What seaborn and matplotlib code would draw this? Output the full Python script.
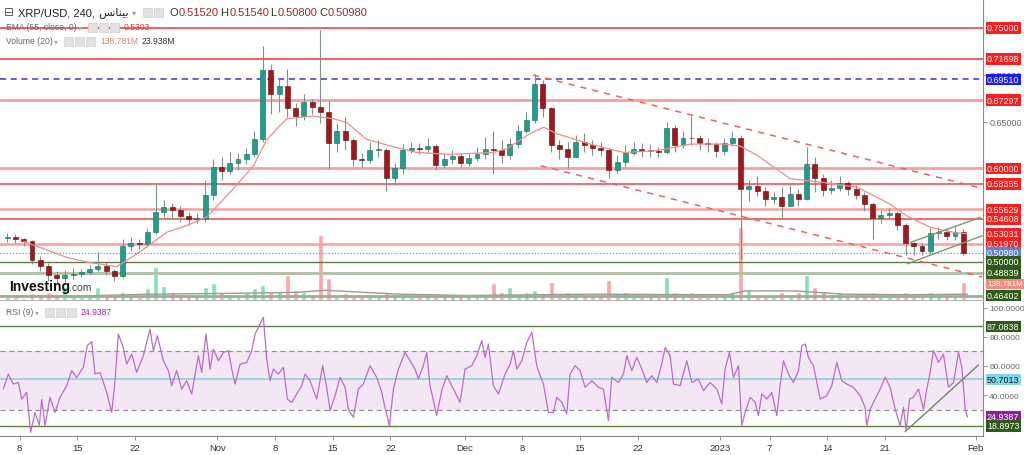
import numpy as np
import pandas as pd
import matplotlib
matplotlib.use("Agg")
import matplotlib.pyplot as plt
from matplotlib.patches import Rectangle
import seaborn as sns

# ---------------- data ----------------
day_start = "2022-10-06"
day_end = "2023-01-30"
origin = "2022-10-08"          # x values are days since this date

first_open = 0.5255
close = [0.527, 0.525, 0.522, 0.502, 0.496, 0.486, 0.483, 0.486, 0.487, 0.489, 0.492, 0.496, 0.490,
         0.485, 0.517, 0.520, 0.519, 0.532, 0.553, 0.559, 0.556, 0.549, 0.546, 0.546, 0.572, 0.602,
         0.597, 0.606, 0.610, 0.615, 0.631, 0.705, 0.680, 0.688, 0.665, 0.656, 0.671, 0.666, 0.660,
         0.627, 0.640, 0.630, 0.610, 0.609, 0.620, 0.620, 0.590, 0.600, 0.620, 0.622, 0.621, 0.624,
         0.604, 0.610, 0.613, 0.606,
         0.611, 0.615, 0.621, 0.620, 0.614, 0.626, 0.640, 0.652, 0.690, 0.664, 0.625, 0.621, 0.612,
         0.628, 0.625, 0.622, 0.620, 0.598, 0.607, 0.616, 0.621, 0.619, 0.619, 0.617, 0.643, 0.625,
         0.633, 0.632, 0.627, 0.626, 0.619,
         0.627, 0.633, 0.578, 0.581, 0.576, 0.567, 0.569, 0.560, 0.573, 0.567, 0.605, 0.590, 0.577,
         0.579, 0.584, 0.578, 0.572, 0.562, 0.547, 0.550, 0.552, 0.540, 0.520, 0.517, 0.512, 0.531,
         0.532, 0.528, 0.532, 0.5098]
high = [0.531, 0.530, 0.526, 0.524, 0.506, 0.499, 0.490, 0.491, 0.494, 0.493, 0.497, 0.511, 0.500,
        0.492, 0.525, 0.527, 0.525, 0.536, 0.583, 0.566, 0.563, 0.560, 0.553, 0.552, 0.588, 0.610,
        0.612, 0.618, 0.616, 0.622, 0.640, 0.731, 0.712, 0.697, 0.706, 0.670, 0.680, 0.674, 0.748,
        0.672, 0.648, 0.655, 0.632, 0.616, 0.628, 0.630, 0.622, 0.606, 0.626, 0.628, 0.627, 0.632,
        0.626, 0.616, 0.620, 0.616,
        0.616, 0.623, 0.634, 0.640, 0.630, 0.632, 0.646, 0.660, 0.701, 0.694, 0.666, 0.630, 0.628,
        0.636, 0.638, 0.630, 0.628, 0.622, 0.614, 0.625, 0.628, 0.627, 0.626, 0.623, 0.650, 0.646,
        0.640, 0.656, 0.636, 0.632, 0.628,
        0.632, 0.640, 0.636, 0.588, 0.592, 0.580, 0.575, 0.580, 0.582, 0.578, 0.623, 0.612, 0.594,
        0.588, 0.592, 0.587, 0.582, 0.575, 0.564, 0.556, 0.558, 0.555, 0.542, 0.521, 0.520, 0.536,
        0.537, 0.536, 0.540, 0.5354]
low = [0.521, 0.520, 0.517, 0.498, 0.490, 0.480, 0.477, 0.476, 0.482, 0.484, 0.486, 0.490, 0.486,
       0.480, 0.483, 0.512, 0.514, 0.516, 0.530, 0.548, 0.546, 0.543, 0.540, 0.542, 0.543, 0.566,
       0.588, 0.594, 0.598, 0.605, 0.612, 0.628, 0.658, 0.660, 0.655, 0.645, 0.652, 0.658, 0.648,
       0.599, 0.618, 0.620, 0.603, 0.600, 0.606, 0.612, 0.576, 0.582, 0.594, 0.616, 0.615, 0.616,
       0.598, 0.600, 0.605, 0.601,
       0.603, 0.608, 0.610, 0.594, 0.606, 0.610, 0.622, 0.638, 0.648, 0.655, 0.618, 0.610, 0.600,
       0.612, 0.618, 0.614, 0.613, 0.590, 0.595, 0.602, 0.614, 0.612, 0.612, 0.612, 0.615, 0.617,
       0.622, 0.625, 0.620, 0.618, 0.612,
       0.614, 0.624, 0.503, 0.565, 0.570, 0.560, 0.562, 0.548, 0.565, 0.560, 0.566, 0.575, 0.570,
       0.573, 0.576, 0.572, 0.567, 0.555, 0.525, 0.542, 0.546, 0.534, 0.507, 0.508, 0.508, 0.509,
       0.525, 0.524, 0.523, 0.508]
volume_m = [25, 20, 18, 55, 40, 60, 45, 100, 40, 25, 30, 100, 40, 35, 60, 35, 40, 90, 257, 110,
            60, 50, 40, 30, 100, 128,
            60, 50, 40, 60, 90, 115, 60, 70, 192, 80, 60, 40, 500, 167, 40, 55, 40, 30, 35, 40,
            55, 45, 40, 30, 30, 35, 50, 45, 35, 35,
            30, 30, 40, 128, 60, 100, 50, 60, 77, 50, 140, 50, 60, 45, 40, 40, 35, 154, 50, 60,
            35, 30, 30, 25, 180, 60, 50, 60, 40, 40, 35,
            40, 60, 565, 80, 50, 40, 35, 60, 50, 60, 192, 100, 70, 50, 64, 40, 40, 50, 60, 40,
            50, 40, 64, 50, 40, 60, 40, 35, 40, 139]

ema_day = [0.5, 1.1, 5.7, 8.1, 11.8, 14.6, 17.9, 20.3, 22.7, 25.9, 28.4, 30.0, 32.4, 35.6, 38.1,
           39.7, 42.1, 45.4, 48.2, 52.2, 57.5, 59.1, 61.9, 63.6, 65.2, 69.2, 73.3, 77.3, 81.4,
           85.4, 87.4, 89.5, 93.5, 97.5, 101.6, 105.6, 107.7, 110.5, 113.7, 114.9]
ema_val = [0.522, 0.520, 0.505, 0.500, 0.495, 0.511, 0.532, 0.539, 0.548, 0.578, 0.603, 0.631,
           0.653, 0.656, 0.653, 0.649, 0.631, 0.623, 0.617, 0.615, 0.617, 0.621, 0.637, 0.644,
           0.637, 0.626, 0.617, 0.619, 0.626, 0.626, 0.624, 0.614, 0.589, 0.585, 0.580, 0.562,
           0.549, 0.537, 0.531, 0.5303]

volma_day = [-2, 8, 16, 24, 30, 34, 37, 40, 46, 54, 62, 70, 78, 86, 88, 94, 100, 108, 115]
volma_val = [30, 32, 45, 50, 55, 60, 75, 65, 45, 35, 40, 45, 42, 40, 70, 70, 45, 40, 45]

rsi_day = [-1.97, -1.37, -0.76, -0.15, 0.25, 0.86, 1.34, 1.87, 2.39, 2.68,
           3.08, 3.69, 4.30, 4.90, 5.71, 6.32, 6.92, 7.73, 8.22, 8.75,
           9.15, 9.76, 10.57, 11.17, 11.58, 11.98, 12.51, 12.99, 13.60, 14.21,
           15.02, 15.42, 15.82, 16.23, 16.71, 17.44, 18.05, 18.45, 19.06, 19.67,
           20.27, 20.88, 21.69, 22.09, 22.62, 23.11, 23.51, 24.12, 24.72, 25.33,
           25.74, 26.14, 26.75, 27.56, 28.16, 28.57, 29.17, 29.58, 29.98, 30.39,
           30.79, 31.40, 32.01, 32.49, 33.02, 33.62, 34.23, 34.64, 35.24, 36.05,
           36.78, 37.26, 37.67, 38.28, 38.88, 39.49, 39.89, 40.50, 41.11, 41.71,
           42.52, 43.33, 43.94, 44.34, 44.87, 45.36, 45.96, 46.77, 47.38, 47.98,
           48.39, 48.99, 49.40, 49.80, 50.61, 51.22, 51.83, 52.43, 53.45, 54.05,
           54.86, 55.47, 56.08, 56.48, 56.88, 57.49, 58.10,
           58.91, 59.52, 59.92, 60.33, 60.93, 61.54, 62.15, 62.75, 63.16, 63.56,
           64.17, 64.78, 65.18, 65.79, 66.39, 66.80, 67.41, 68.01, 68.62, 69.43,
           70.24, 70.84, 71.45, 71.85, 72.66, 73.27, 73.68, 74.28, 74.89, 75.50,
           76.10, 76.71, 77.32, 77.92, 78.33, 78.93, 79.34, 80.15, 80.96, 81.56,
           82.37, 82.98, 83.79, 84.60, 85.20, 85.61, 86.13, 86.62, 87.23, 87.63,
           88.04, 88.64, 89.25, 89.65, 90.06, 90.67, 91.27, 91.88, 92.28, 92.69,
           93.30, 93.90, 94.51, 94.91, 95.32, 95.72, 96.33, 96.73, 97.14, 97.95,
           98.55, 99.16, 99.77, 100.37, 101.18, 101.99, 102.60, 102.80, 103.21, 103.81,
           104.42, 105.03, 105.63, 106.24, 106.85, 107.25, 107.57, 107.98, 108.46, 109.07,
           109.68, 110.08, 110.49, 110.89, 111.50, 112.10, 112.71, 113.32, 113.93, 114.33,
           114.74, 115.02]
rsi_val = [44, 54.4, 47.5, 48.6, 37.2, 41.8, 14.4, 28, 19, 37,
           19, 38.4, 28, 38.4, 46.4, 56.7, 52, 59, 74, 76.6,
           54.4, 55.5, 41.8, 28, 49.8, 81.8, 73.8, 61.2, 68, 55.5,
           67, 76, 85.2, 70.4, 80.7, 63.5, 56.7, 46.4, 56.7, 44,
           49.8, 40.7, 67, 55.5, 81.8, 57.8, 71.5, 63.5, 69.2, 70.4,
           57.8, 47.5, 61.2, 62.3, 70.4, 81.8, 88.7, 93.3, 64.7, 49.8,
           57.8, 54.4, 59, 37.2, 34.9, 40.7, 46.4, 54.4, 49.8, 37.2,
           60.1, 45.3, 29.2, 39.5, 52.1, 45.3, 30.3, 24.6, 44.1, 47.5,
           60.1, 52.1, 41.8, 31.4, 19, 44.1, 57.8, 69.2, 63.5, 57.8,
           51, 60.1, 69.2, 46.4, 26, 43, 53.3, 46.4, 35, 57.8,
           60.1, 67, 77.3, 65.8, 75, 46.4, 40.7,
           54.4, 61.2, 70.4, 57.8, 63.5, 76, 83, 60.1, 53.3, 47.5,
           28, 28, 38.4, 35, 27, 54.4, 60.1, 56.7, 45.3, 49.8,
           45.3, 44.1, 22.4, 52.1, 48.6, 54.4, 67, 56.7, 65.8, 57.8,
           48.6, 53.3, 48.6, 61.2, 72.6, 67, 47.5, 46.4, 63.5, 48.6,
           51, 43, 48.6, 44.1, 33.8, 57.8, 69.2, 52.1, 60.1, 19,
           28, 38.4, 35, 25.8, 40.7, 37.2, 41.8, 25.8, 46.4, 63.5,
           54.4, 48.6, 56.7, 73.8, 75, 65.8, 60.1, 48.6, 37.2, 39.5,
           46.4, 62.3, 49.8, 47.5, 45.3, 39.5, 31.4, 19, 30.3, 37.2,
           44.1, 52.1, 45.3, 30.3, 19, 31.4, 15.6, 37.2, 38.4, 44.1,
           30.3, 44.1, 55.5, 70.4, 62.3, 68, 45.3, 48.6, 69.2, 59,
           30.3, 24.94]

level_price = [0.75000, 0.71698, 0.69510, 0.67297, 0.60000, 0.58355, 0.55629, 0.54608,
               0.51970, 0.50980, 0.50000, 0.48839, 0.46402]
rsi_levels = [87.0838, 70.0, 50.7013, 30.0, 18.8973]

upper_trend_day, upper_trend_price = [62.3, 116.6], [0.6998, 0.5790]
lower_trend_day, lower_trend_price = [63.2, 116.8], [0.6029, 0.4840]
chan_up_day, chan_up_price = [108.1, 116.6], [0.5210, 0.5477]
chan_lo_day, chan_lo_price = [107.7, 116.8], [0.4980, 0.5280]
rsi_trend_day, rsi_trend_val = [107.45, 116.35], [14.8, 60.6]

tick_dates = ['2022-10-08', '2022-10-15', '2022-10-22', '2022-11-01', '2022-11-08', '2022-11-15',
              '2022-11-22', '2022-12-01', '2022-12-08', '2022-12-15', '2022-12-22', '2023-01-01',
              '2023-01-07', '2023-01-14', '2023-01-21', '2023-02-01']
tick_labels = ['8', '15', '22', 'Nov', '8', '15', '22', 'Dec', '8', '15', '22', '2023',
               '7', '14', '21', 'Feb']

# ---------------- style ----------------
sns.set_style("white")
plt.rcParams['font.family'] = ['Liberation Sans', 'DejaVu Sans']

W, H = 1024, 456
fig = plt.figure(figsize=(W / 100, H / 100), dpi=100, facecolor='white')

def rect(top_px, bot_px, right_px=983):
    return [0, (H - bot_px) / H, right_px / W, (bot_px - top_px) / H]

XL = (-2.38, 116.9)
PL = (0.4594, 0.78098)

ax_vol = fig.add_axes(rect(0, 301))
ax = fig.add_axes(rect(0, 301))
ax.set_facecolor('none')
ax_rsi = fig.add_axes(rect(302, 437))

# ---------------- candles ----------------
dates = pd.date_range(day_start, day_end, freq='D')
xd = (dates - pd.Timestamp(origin)).days.values + 0.5
c = np.array(close)
o = np.r_[first_open, c[:-1]]
up = c >= o
UPC, DNC, WICK = '#1f9e89', '#a3171b', '#7d928a'

ax.vlines(xd, low, high, color=WICK, lw=0.8, zorder=3)
body = np.maximum(np.abs(c - o), 0.0009)
bottom = np.minimum(c, o)
ax.bar(xd[up], body[up], bottom=bottom[up], width=0.6, color=UPC, edgecolor='#17695d', lw=0.4, zorder=4)
ax.bar(xd[~up], body[~up], bottom=bottom[~up], width=0.6, color=DNC, edgecolor='#5a0d0f', lw=0.4, zorder=4)

# EMA
sns.lineplot(x=ema_day, y=ema_val, ax=ax, color='#f28b8b', lw=0.9, zorder=5)

# volume
vcols = np.where(up, '#86e0b6', '#f7a8a8')
ax_vol.bar(xd, volume_m, width=0.6, color=vcols, zorder=2)
sns.lineplot(x=volma_day, y=volma_val, ax=ax_vol, color='#9a9a9a', lw=1.0, zorder=3)
ax_vol.set_ylim(0, 2318)
ax_vol.set_xlim(*XL)
ax_vol.axis('off')

# level lines
lvl_style = [
    dict(color='#f23535', lw=1.1, ls='-'),
    dict(color='#f23535', lw=1.1, ls='-'),
    dict(color='#3636f0', lw=1.1, ls=(0, (4, 3))),
    dict(color='#f6a0a0', lw=2.0, ls='-'),
    dict(color='#f6a0a0', lw=2.0, ls='-'),
    dict(color='#f04545', lw=1.1, ls='-'),
    dict(color='#f6a0a0', lw=1.8, ls='-'),
    dict(color='#f04545', lw=1.1, ls='-'),
    dict(color='#f6a0a0', lw=1.8, ls='-'),
    dict(color='#7090e8', lw=0.9, ls=(0, (1, 1.5))),
    dict(color='#5f7f45', lw=1.0, ls='-'),
    dict(color='#b0bfa3', lw=2.0, ls='-'),
    dict(color='#9fae96', lw=2.0, ls='-'),
]
for p, st in zip(level_price, lvl_style):
    ax.axhline(p, zorder=2, **st)

# trend lines
ax.plot(upper_trend_day, upper_trend_price, color='#f26060', lw=1.1, ls=(0, (4, 4)), zorder=6)
ax.plot(lower_trend_day, lower_trend_price, color='#f26060', lw=1.1, ls=(0, (4, 4)), zorder=6)
ax.plot(chan_up_day, chan_up_price, color='#7f9a6a', lw=1.0, zorder=6)
ax.plot(chan_lo_day, chan_lo_price, color='#7f9a6a', lw=1.0, zorder=6)

ax.set_xlim(*XL)
ax.set_ylim(*PL)
ax.set_xlabel('')
ax.set_ylabel('')
ax.set_xticks([])
ax.yaxis.tick_right()
ax.set_yticks([0.70, 0.65])
ax.set_yticklabels(['0.70000', '0.65000'])
ax.tick_params(axis='y', right=True, length=3, width=0.6, color='#888', labelsize=6.4,
               labelcolor='#666', pad=2)
for s in ['top', 'left']:
    ax.spines[s].set_visible(False)
ax.spines['right'].set_color('#8a8a8a')
ax.spines['right'].set_linewidth(0.8)
ax.spines['bottom'].set_color('#b5b5b5')
ax.spines['bottom'].set_linewidth(0.8)

def rlabel(axis, y, txt, bg, fg='white', size=6.4):
    axis.text(1.004, y, txt, transform=axis.get_yaxis_transform(), ha='left', va='center',
              fontsize=size, color=fg, clip_on=False, zorder=20,
              bbox=dict(boxstyle='square,pad=0.14', fc=bg, ec='none'))

RED, DG = '#ff1c1c', '#2f5a17'
main_labels = [
    (0.75000, '0.75000', RED), (0.71698, '0.71698', RED), (0.69510, '0.69510', '#1c1cff'),
    (0.67297, '0.67297', RED), (0.60000, '0.60000', RED), (0.58355, '0.58355', RED),
    (0.55629, '0.55629', RED), (0.54608, '0.54608', RED), (0.53031, '0.53031', RED),
    (0.51970, '0.51970', RED), (0.50980, '0.50980', '#5b80e0'), (0.50000, '0.50000', DG),
    (0.48839, '0.48839', DG), (0.46402, '0.46402', DG),
]
for y, t, bgc in main_labels:
    rlabel(ax, y, t, bgc)
rlabel(ax, 0.4765, '138.781M', '#f28a82', size=5.8)

# ---------------- RSI ----------------
ax_rsi.axhspan(30, 70, color='#f3e7f5', zorder=0, lw=0)
ax_rsi.axhline(87.0838, color='#5f7f45', lw=1.0, zorder=1)
ax_rsi.axhline(18.8973, color='#5f7f45', lw=1.0, zorder=1)
ax_rsi.axhline(70, color='#9c8a9e', lw=0.9, ls=(0, (4, 3)), zorder=1)
ax_rsi.axhline(30, color='#9c8a9e', lw=0.9, ls=(0, (4, 3)), zorder=1)
ax_rsi.axhline(50.7013, color='#86cfe3', lw=1.1, zorder=1)
sns.lineplot(x=rsi_day, y=rsi_val, ax=ax_rsi, color='#bb6ccb', lw=0.9, zorder=3)
ax_rsi.plot(rsi_trend_day, rsi_trend_val, color='#6f8a5a', lw=1.0, zorder=4)
ax_rsi.set_xlim(*XL)
ax_rsi.set_ylim(11.87, 104.5)
ax_rsi.set_xlabel('')
ax_rsi.set_ylabel('')
ax_rsi.yaxis.tick_right()
ax_rsi.set_yticks([100, 80, 60, 40])
ax_rsi.set_yticklabels(['100.0000', '80.0000', '60.0000', '40.0000'])
ax_rsi.tick_params(axis='y', right=True, length=3, width=0.6, color='#888', labelsize=6.0,
                   labelcolor='#666', pad=1.5)
tick_x = (pd.to_datetime(tick_dates) - pd.Timestamp(origin)).days.values
ax_rsi.set_xticks(tick_x)
ax_rsi.set_xticklabels(tick_labels)
ax_rsi.tick_params(axis='x', bottom=True, length=3, width=0.6, color='#888', labelsize=6.8,
                   labelcolor='#333', pad=2)
for s in ['top', 'left']:
    ax_rsi.spines[s].set_visible(False)
for s in ['right', 'bottom']:
    ax_rsi.spines[s].set_color('#8a8a8a')
    ax_rsi.spines[s].set_linewidth(0.8)

rsi_labels = [(87.0838, '87.0838', DG, 'white'), (50.7013, '50.7013', '#7fd6ea', '#1a1a1a'),
              (24.9387, '24.9387', '#8e1f9e', 'white'), (18.8973, '18.8973', DG, 'white')]
for y, t, bgc, fgc in rsi_labels:
    rlabel(ax_rsi, y, t, bgc, fgc)

# ---------------- header texts ----------------
def ftext(x, y, s, **kw):
    fig.text(x / W, 1 - y / H, s, va='center', ha='left', **kw)

def icons(x0, y, n):
    for i in range(n):
        fig.patches.append(Rectangle(((x0 + i * 11) / W, 1 - (y + 4.5) / H), 9 / W, 9 / H,
                                     transform=fig.transFigure, fc='#e2e2e2', ec='#d0d0d0',
                                     lw=0.5, zorder=30))

ftext(4, 13, '⊟', fontsize=8.5, color='#555', family=['DejaVu Sans'])
ftext(18, 13, 'XRP/USD, 240, ', fontsize=8, color='#222')
ftext(98, 13, 'ﺲﻧﺎﻨﻴﺑ', fontsize=8, color='#222', family=['DejaVu Sans'])
ftext(132, 13, '▾', fontsize=6, color='#999', family=['DejaVu Sans'])
icons(143, 13, 2)
for lx, letter, val in [(170, 'O', '0.51520'), (220.5, 'H', '0.51540'),
                        (270.5, 'L', '0.50800'), (319, 'C', '0.50980')]:
    ftext(lx, 13, letter, fontsize=8, color='#333')
    ftext(lx + (9 if letter != 'L' else 7), 13, val, fontsize=8, color='#9a2a2a')

ftext(6, 28, 'EMA (55, close, 0)', fontsize=6.2, color='#666')
ftext(78, 28, '▾', fontsize=5.5, color='#aaa', family=['DejaVu Sans'])
icons(88, 28, 3)
ftext(124, 28, '0.5303', fontsize=6.2, color='#f03030')

ftext(6, 42, 'Volume (20)', fontsize=6.2, color='#666')
ftext(54, 42, '▾', fontsize=5.5, color='#aaa', family=['DejaVu Sans'])
icons(64, 42, 3)
ftext(100, 42, '138.781M', fontsize=6.2, color='#f07a7a')
ftext(142, 42, '23.938M', fontsize=6.2, color='#333')

ftext(6, 313, 'RSI (9)', fontsize=6.2, color='#666')
ftext(35, 313, '▾', fontsize=5.5, color='#aaa', family=['DejaVu Sans'])
icons(45, 313, 3)
ftext(81, 313, '24.9387', fontsize=6.2, color='#9c27b0')

ftext(9, 287, 'Investing', fontsize=10, color='#111', weight='bold')
ftext(69, 288, '.com', fontsize=7.5, color='#444')

fig.savefig('out.png', dpi=100, facecolor='white')
